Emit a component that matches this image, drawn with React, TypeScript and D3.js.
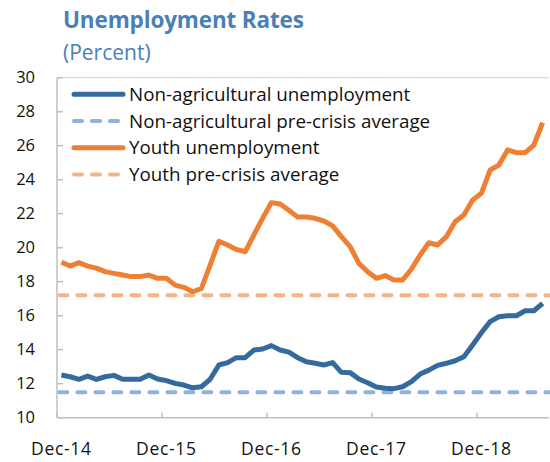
import React from "react";
import * as d3 from "d3";

const months: string[] = [
  "Dec-14",
  "Jan-15","Feb-15","Mar-15","Apr-15","May-15","Jun-15","Jul-15","Aug-15","Sep-15","Oct-15","Nov-15","Dec-15",
  "Jan-16","Feb-16","Mar-16","Apr-16","May-16","Jun-16","Jul-16","Aug-16","Sep-16","Oct-16","Nov-16","Dec-16",
  "Jan-17","Feb-17","Mar-17","Apr-17","May-17","Jun-17","Jul-17","Aug-17","Sep-17","Oct-17","Nov-17","Dec-17",
  "Jan-18","Feb-18","Mar-18","Apr-18","May-18","Jun-18","Jul-18","Aug-18","Sep-18","Oct-18","Nov-18","Dec-18",
  "Jan-19","Feb-19","Mar-19","Apr-19","May-19","Jun-19","Jul-19",
];

const nonAgri: number[] = [
  12.51, 12.41, 12.26, 12.45, 12.26, 12.41, 12.49, 12.26, 12.26, 12.26, 12.51, 12.28, 12.18,
  12.02, 11.92, 11.76, 11.82, 12.26, 13.1, 13.24, 13.53, 13.53, 13.98, 14.04, 14.24,
  13.98, 13.86, 13.53, 13.29, 13.2, 13.1, 13.24, 12.67, 12.65, 12.28, 12.06, 11.8,
  11.73, 11.71, 11.82, 12.12, 12.57, 12.8, 13.08, 13.2, 13.35, 13.59, 14.28, 15.0,
  15.65, 15.94, 16.0, 16.0, 16.29, 16.29, 16.73,
];

const youth: number[] = [
  19.14, 18.92, 19.12, 18.92, 18.8, 18.59, 18.49, 18.39, 18.3, 18.3, 18.39, 18.2, 18.2,
  17.8, 17.67, 17.41, 17.6, 18.98, 20.38, 20.16, 19.9, 19.76, 20.75, 21.73, 22.65,
  22.57, 22.2, 21.8, 21.8, 21.73, 21.57, 21.28, 20.65, 20.06, 19.08, 18.59, 18.2,
  18.36, 18.1, 18.1, 18.73, 19.57, 20.29, 20.16, 20.65, 21.53, 21.92, 22.8, 23.2,
  24.57, 24.86, 25.75, 25.59, 25.59, 26.04, 27.35,
];

const nonAgriPreCrisis = 11.5;
const youthPreCrisis = 17.2;

const yTicks: number[] = [10, 12, 14, 16, 18, 20, 22, 24, 26, 28, 30];
const xTickLabels: string[] = ["Dec-14", "Dec-15", "Dec-16", "Dec-17", "Dec-18"];

const legendItems = [
  { label: "Non-agricultural unemployment", color: "#356A9E", dashed: false },
  { label: "Non-agricultural pre-crisis average", color: "#8DB3DD", dashed: true },
  { label: "Youth unemployment", color: "#EF7F33", dashed: false },
  { label: "Youth pre-crisis average", color: "#F6B486", dashed: true },
];

const W = 550;
const H = 462;
const left = 57;
const right = 549;
const top = 77.7;
const bottom = 417.7;
const FONT = "'Open Sans', 'Noto Sans', sans-serif";

export default function App() {
  const x = d3
    .scaleBand<string>()
    .domain(months)
    .range([left, left + months.length * 8.75])
    .padding(0);
  const y = d3.scaleLinear().domain([10, 30]).range([bottom, top]);
  const cx = (m: string) => (x(m) as number) + x.bandwidth() / 2;

  const line = d3
    .line<number>()
    .x((_, i) => cx(months[i]))
    .y((d) => y(d));

  const firstX = cx(months[0]);
  const lastX = right;

  return (
    <svg
      width={W}
      height={H}
      style={{ position: "absolute", left: 0, top: 0, background: "#fff" }}
      fontFamily={FONT}
    >
      <text x={63} y={28} fontSize={22.5} fontWeight={700} fill="#4A80B8" letterSpacing={-0.15}>
        Unemployment Rates
      </text>
      <text x={63} y={60} fontSize={21} fill="#4A80B8">
        (Percent)
      </text>

      {/* frame */}
      <line x1={left} x2={right} y1={top} y2={top} stroke="#D9D9D9" strokeWidth={1.2} />
      <line x1={left} x2={left} y1={top} y2={bottom} stroke="#BFBFBF" strokeWidth={1.5} />
      <line x1={left} x2={right} y1={bottom} y2={bottom} stroke="#BFBFBF" strokeWidth={1.5} />

      {yTicks.map((t) => (
        <g key={t}>
          <line x1={left} x2={left + 6} y1={y(t)} y2={y(t)} stroke="#BFBFBF" strokeWidth={1.5} />
          <text x={35} y={y(t)} dy="0.35em" textAnchor="end" fontSize={16.5} fill="#111">
            {t}
          </text>
        </g>
      ))}

      {xTickLabels.map((m) => (
        <g key={m}>
          <line
            x1={x(m) as number}
            x2={x(m) as number}
            y1={bottom}
            y2={bottom - 5}
            stroke="#BFBFBF"
            strokeWidth={1.5}
          />
          <text x={cx(m)} y={455} textAnchor="middle" fontSize={17.5} letterSpacing={0.7} fill="#111">
            {m}
          </text>
        </g>
      ))}

      {/* pre-crisis averages */}
      <line
        x1={firstX - 2}
        x2={lastX}
        y1={y(youthPreCrisis)}
        y2={y(youthPreCrisis)}
        stroke="#F6B486"
        strokeWidth={4}
        strokeDasharray="8 10"
        strokeLinecap="round"
      />
      <line
        x1={firstX - 2}
        x2={lastX}
        y1={y(nonAgriPreCrisis)}
        y2={y(nonAgriPreCrisis)}
        stroke="#8DB3DD"
        strokeWidth={4}
        strokeDasharray="8 10"
        strokeLinecap="round"
      />

      <path d={line(youth) || ""} fill="none" stroke="#EF7F33" strokeWidth={5} strokeLinejoin="round" />
      <path d={line(nonAgri) || ""} fill="none" stroke="#356A9E" strokeWidth={5} strokeLinejoin="round" />

      {/* legend */}
      {legendItems.map((it, i) => {
        const ly = 94.3 + i * 26.7;
        return (
          <g key={it.label}>
            <line
              x1={74}
              x2={123}
              y1={ly}
              y2={ly}
              stroke={it.color}
              strokeWidth={it.dashed ? 4 : 5}
              strokeLinecap="round"
              strokeDasharray={it.dashed ? "8 10" : undefined}
            />
            <text x={129} y={ly} dy="0.35em" fontSize={18.8} fill="#111">
              {it.label}
            </text>
          </g>
        );
      })}
    </svg>
  );
}
